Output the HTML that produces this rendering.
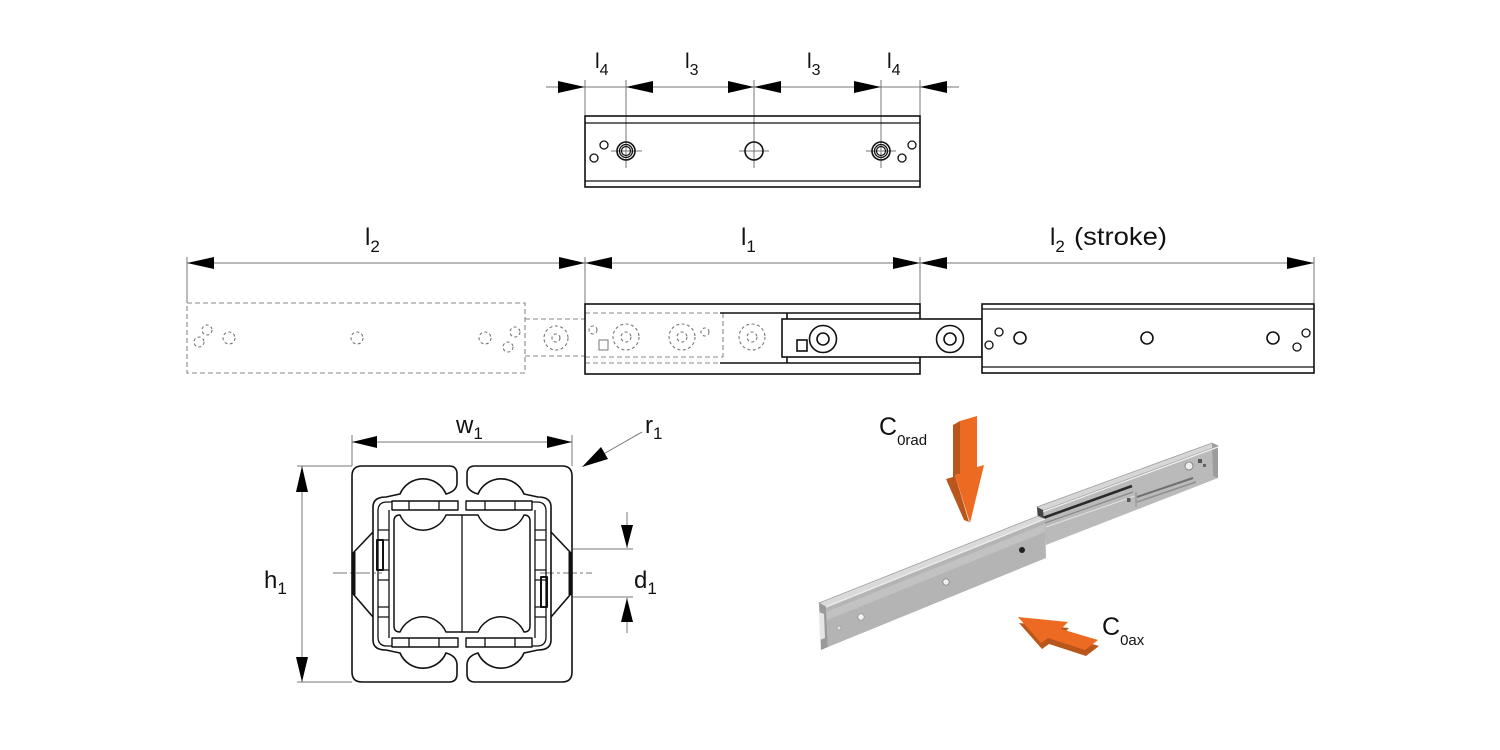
<!DOCTYPE html>
<html>
<head>
<meta charset="utf-8">
<style>
html,body{margin:0;padding:0;background:#fff;}
svg{display:block;}
text{font-family:"Liberation Sans",Arial,sans-serif;fill:#111;}
</style>
</head>
<body>
<svg width="1500" height="750" viewBox="0 0 1500 750" xmlns="http://www.w3.org/2000/svg">
<rect width="1500" height="750" fill="#fff"/>

<!-- ================= TOP RAIL ================= -->
<g stroke="#777" stroke-width="1" fill="none">
  <line x1="546" y1="87" x2="959" y2="87"/>
  <line x1="585" y1="80" x2="585" y2="116"/>
  <line x1="920" y1="80" x2="920" y2="116"/>
  <line x1="626" y1="80" x2="626" y2="168"/>
  <line x1="754" y1="80" x2="754" y2="168"/>
  <line x1="881" y1="80" x2="881" y2="168"/>
  <line x1="611" y1="151" x2="642" y2="151"/>
  <line x1="739" y1="151" x2="769" y2="151"/>
  <line x1="866" y1="151" x2="896" y2="151"/>
</g>
<g fill="#000">
  <polygon points="558,81 585,87 558,93"/>
  <polygon points="653,81 626,87 653,93"/>
  <polygon points="728,81 754,87 728,93"/>
  <polygon points="781,81 754,87 781,93"/>
  <polygon points="854,81 881,87 854,93"/>
  <polygon points="947,81 920,87 947,93"/>
</g>
<g stroke="#111" stroke-width="1.6" fill="none">
  <rect x="585" y="116" width="335" height="71"/>
  <line x1="585" y1="123" x2="920" y2="123" stroke-width="1.3"/>
  <line x1="585" y1="181" x2="920" y2="181" stroke-width="1.3"/>
  <circle cx="626" cy="151" r="9"/>
  <circle cx="626" cy="151" r="6.5" stroke-width="1.3"/>
  <circle cx="626" cy="151" r="4.5" stroke-width="1.2"/>
  <circle cx="754" cy="151" r="9"/>
  <circle cx="881" cy="151" r="9"/>
  <circle cx="881" cy="151" r="6.5" stroke-width="1.3"/>
  <circle cx="881" cy="151" r="4.5" stroke-width="1.2"/>
  <circle cx="604" cy="145" r="4" stroke-width="1.3"/>
  <circle cx="594" cy="158" r="4" stroke-width="1.3"/>
  <circle cx="912" cy="145" r="4" stroke-width="1.3"/>
  <circle cx="902" cy="158" r="4" stroke-width="1.3"/>
</g>
<text x="595" y="68" font-size="21">l<tspan font-size="16" dy="7">4</tspan></text>
<text x="685" y="68" font-size="21">l<tspan font-size="16" dy="7">3</tspan></text>
<text x="807" y="68" font-size="21">l<tspan font-size="16" dy="7">3</tspan></text>
<text x="887" y="68" font-size="21">l<tspan font-size="16" dy="7">4</tspan></text>

<!-- ================= MIDDLE VIEW ================= -->
<g stroke="#777" stroke-width="1" fill="none">
  <line x1="187" y1="263" x2="1314" y2="263"/>
  <line x1="187" y1="257" x2="187" y2="303"/>
  <line x1="585" y1="257" x2="585" y2="304"/>
  <line x1="920" y1="257" x2="920" y2="304"/>
  <line x1="1314" y1="257" x2="1314" y2="304"/>
</g>
<g fill="#000">
  <polygon points="214,257 187,263 214,269"/>
  <polygon points="559,257 585,263 559,269"/>
  <polygon points="612,257 585,263 612,269"/>
  <polygon points="893,257 920,263 893,269"/>
  <polygon points="947,257 920,263 947,269"/>
  <polygon points="1287,257 1314,263 1287,269"/>
</g>
<text x="365" y="245" font-size="24">l<tspan font-size="17" dy="7">2</tspan></text>
<text x="741" y="245" font-size="24">l<tspan font-size="17" dy="7">1</tspan></text>
<text x="1050" y="245" font-size="24">l<tspan font-size="17" dy="7">2</tspan></text>
<text x="1074" y="245" font-size="25" textLength="93" lengthAdjust="spacingAndGlyphs">(stroke)</text>

<!-- dashed phantom -->
<g stroke="#888" stroke-width="1.1" fill="none" stroke-dasharray="5,3">
  <rect x="187" y="303" width="338" height="70"/>
  <line x1="525" y1="319" x2="585" y2="319"/>
  <line x1="525" y1="356" x2="585" y2="356"/>
  <line x1="585" y1="313" x2="723" y2="313"/>
  <line x1="585" y1="357" x2="723" y2="357"/>
  <line x1="723" y1="313" x2="723" y2="357"/>
  <line x1="585" y1="363" x2="720" y2="363"/>
</g>
<g stroke="#777" stroke-width="1.1" fill="none" stroke-dasharray="3,2.5">
  <circle cx="207" cy="330" r="5"/>
  <circle cx="199" cy="342" r="5"/>
  <circle cx="229" cy="338" r="6"/>
  <circle cx="357" cy="338" r="6"/>
  <circle cx="485" cy="338" r="6"/>
  <circle cx="515" cy="332" r="5"/>
  <circle cx="508" cy="347" r="5"/>
  <circle cx="556" cy="338" r="12"/>
  <circle cx="556" cy="338" r="4"/>
  <circle cx="593" cy="330" r="4"/>
  <circle cx="626" cy="337" r="13"/>
  <circle cx="626" cy="337" r="5"/>
  <circle cx="682" cy="337" r="13"/>
  <circle cx="682" cy="337" r="5"/>
  <circle cx="705" cy="332" r="4"/>
  <circle cx="752" cy="337" r="13"/>
  <circle cx="752" cy="337" r="5"/>
</g>
<rect x="599" y="340" width="9" height="10" fill="none" stroke="#777" stroke-width="1"/>

<!-- solid I1 rail -->
<g stroke="#111" stroke-width="1.6" fill="none">
  <rect x="585" y="304" width="335" height="70"/>
  <line x1="720" y1="313" x2="920" y2="313"/>
  <line x1="720" y1="363" x2="920" y2="363"/>
  <line x1="787" y1="313" x2="787" y2="363"/>
  <rect x="782" y="319" width="200" height="38" fill="#fff"/>
  <rect x="797" y="340" width="10" height="11"/>
  <circle cx="823" cy="339" r="13.5"/>
  <circle cx="823" cy="339" r="6"/>
  <circle cx="950" cy="339" r="13.5"/>
  <circle cx="950" cy="339" r="6"/>
  <!-- right rail -->
  <rect x="982" y="304" width="332" height="69" fill="#fff"/>
  <line x1="982" y1="309" x2="1314" y2="309" stroke-width="1.3"/>
  <line x1="982" y1="367" x2="1314" y2="367" stroke-width="1.3"/>
  <circle cx="999" cy="332" r="4" stroke-width="1.3"/>
  <circle cx="989" cy="345" r="4" stroke-width="1.3"/>
  <circle cx="1020" cy="338" r="6"/>
  <circle cx="1147" cy="338" r="6"/>
  <circle cx="1273" cy="338" r="6"/>
  <circle cx="1306" cy="333" r="4" stroke-width="1.3"/>
  <circle cx="1297" cy="347" r="4" stroke-width="1.3"/>
</g>

<!-- ================= CROSS SECTION ================= -->
<g stroke="#777" stroke-width="1" fill="none">
  <line x1="352" y1="442" x2="572" y2="442"/>
  <line x1="352" y1="435" x2="352" y2="466"/>
  <line x1="572" y1="435" x2="572" y2="466"/>
  <line x1="302" y1="466" x2="302" y2="682"/>
  <line x1="297" y1="466" x2="352" y2="466"/>
  <line x1="297" y1="682" x2="352" y2="682"/>
  <line x1="627" y1="512" x2="627" y2="548"/>
  <line x1="627" y1="598" x2="627" y2="633"/>
  <line x1="573" y1="549" x2="633" y2="549"/>
  <line x1="573" y1="597" x2="633" y2="597"/>
  <line x1="642" y1="432" x2="600" y2="456"/>
  <line x1="333" y1="573" x2="382" y2="573" stroke-dasharray="14,3,3,3"/>
  <line x1="540" y1="573" x2="592" y2="573" stroke-dasharray="14,3,3,3"/>
</g>
<g fill="#000">
  <polygon points="377,436 352,442 377,448"/>
  <polygon points="547,436 572,442 547,448"/>
  <polygon points="296,492 302,466 308,492"/>
  <polygon points="296,657 302,682 308,657"/>
  <polygon points="621,525 627,548 633,525"/>
  <polygon points="621,622 627,598 633,622"/>
  <polygon points="582,467 608,459 601,447"/>
</g>
<text x="456" y="433" font-size="24">w<tspan font-size="17" dy="6">1</tspan></text>
<text x="645" y="433" font-size="24">r<tspan font-size="17" dy="6">1</tspan></text>
<text x="264" y="588" font-size="24">h<tspan font-size="17" dy="6">1</tspan></text>
<text x="634" y="588" font-size="24">d<tspan font-size="17" dy="6">1</tspan></text>

<g stroke="#111" stroke-width="1.6" fill="none" stroke-linejoin="round">
  <path d="M400 494 A25 25 0 0 1 446 494 Q457 491 457 483 V474 Q457 466 449 466 H362 Q352 466 352 476 V672 Q352 682 362 682 H449 Q457 682 457 674 V665 Q457 656 446 653 A25 25 0 0 1 400 653 L386 650 Q373 650 373 640 V507 Q373 497 386 497 Z"/>
  <path d="M373 532 L354 552 V595 L373 617"/>
  <line x1="354" y1="552" x2="354" y2="595" stroke-width="3"/>
  <path d="M392 502 H387 Q378 502 378 511 V637 Q378 646 387 646 H392" stroke-width="1.3"/>
  <rect x="392" y="501" width="66" height="9" fill="#fff" stroke-width="1.4"/>
  <line x1="409" y1="501" x2="409" y2="510" stroke-width="1.3"/>
  <line x1="439" y1="501" x2="439" y2="510" stroke-width="1.3"/>
  <rect x="392" y="638" width="66" height="9" fill="#fff" stroke-width="1.4"/>
  <line x1="409" y1="638" x2="409" y2="647" stroke-width="1.3"/>
  <line x1="439" y1="638" x2="439" y2="647" stroke-width="1.3"/>
  <path d="M389 510 V638 M378 530 H389 M378 540 H389 M378 570 H389 M378 580 H389 M378 607 H389 M378 617 H389" stroke-width="1.3"/>
  <rect x="377" y="540" width="6" height="30" stroke-width="2"/>
  <path d="M462 515 H446 A25 25 0 0 1 400 515 Q394 515 394 521 V626 Q394 632 400 632 A25 25 0 0 1 446 632 H462" stroke-width="1.5"/>
  <line x1="462" y1="515" x2="462" y2="632" stroke-width="1.3"/>
</g>
<g transform="matrix(-1 0 0 1 924 0)" stroke="#111" stroke-width="1.6" fill="none" stroke-linejoin="round">
  <path d="M400 494 A25 25 0 0 1 446 494 Q457 491 457 483 V474 Q457 466 449 466 H362 Q352 466 352 476 V672 Q352 682 362 682 H449 Q457 682 457 674 V665 Q457 656 446 653 A25 25 0 0 1 400 653 L386 650 Q373 650 373 640 V507 Q373 497 386 497 Z"/>
  <path d="M373 532 L354 552 V595 L373 617"/>
  <line x1="354" y1="552" x2="354" y2="595" stroke-width="3"/>
  <path d="M392 502 H387 Q378 502 378 511 V637 Q378 646 387 646 H392" stroke-width="1.3"/>
  <rect x="392" y="501" width="66" height="9" fill="#fff" stroke-width="1.4"/>
  <line x1="409" y1="501" x2="409" y2="510" stroke-width="1.3"/>
  <line x1="439" y1="501" x2="439" y2="510" stroke-width="1.3"/>
  <rect x="392" y="638" width="66" height="9" fill="#fff" stroke-width="1.4"/>
  <line x1="409" y1="638" x2="409" y2="647" stroke-width="1.3"/>
  <line x1="439" y1="638" x2="439" y2="647" stroke-width="1.3"/>
  <path d="M389 510 V638 M378 530 H389 M378 540 H389 M378 570 H389 M378 580 H389 M378 607 H389 M378 617 H389" stroke-width="1.3"/>
  <rect x="377" y="577" width="6" height="30" stroke-width="2"/>
  <path d="M462 515 H446 A25 25 0 0 1 400 515 Q394 515 394 521 V626 Q394 632 400 632 A25 25 0 0 1 446 632 H462" stroke-width="1.5"/>
</g>

<!-- ================= 3D RAIL ================= -->
<polygon points="1037,507 1212,443 1218,446 1042,511" fill="#d6d6d6" stroke="#9a9a9a" stroke-width="0.8"/>
<polygon points="1042,511 1218,446 1218,478 1046,545" fill="#bababa"/>
<polygon points="1212,443 1218,446 1218,478 1213,476" fill="#9c9c9c"/>
<line x1="1042" y1="512" x2="1218" y2="447" stroke="#eeeeee" stroke-width="1.2"/>
<line x1="1043" y1="518" x2="1132" y2="486" stroke="#2a2a2a" stroke-width="2.6"/>
<line x1="1045" y1="523" x2="1133" y2="492" stroke="#8a8a8a" stroke-width="1.2"/>
<line x1="1046" y1="527" x2="1135" y2="496" stroke="#e2e2e2" stroke-width="1"/>
<line x1="1137" y1="497" x2="1193" y2="478" stroke="#6f6f6f" stroke-width="2"/>
<line x1="1137" y1="502" x2="1196" y2="482" stroke="#8f8f8f" stroke-width="1.5"/>
<line x1="1136" y1="492" x2="1136" y2="507" stroke="#8a8a8a" stroke-width="1"/>
<polygon points="1037,507 1043,510 1044,521 1038,522" fill="#444"/>
<circle cx="1189" cy="466" r="4" fill="#eeeeee" stroke="#7a7a7a" stroke-width="0.8"/>
<rect x="1198" y="459" width="4" height="4" fill="#555"/>
<rect x="1203" y="464" width="3" height="3" fill="#666"/>
<rect x="1127" y="498" width="3.5" height="4" fill="#555"/>

<polygon points="819,603 1038,516 1045,519 826,607" fill="#dadada" stroke="#a0a0a0" stroke-width="0.8"/>
<polygon points="826,607 1045,519 1046,558 828,647" fill="#b4b4b4"/>
<polygon points="826,612 1045,524 1045,532 827,620" fill="#c2c2c2"/>
<line x1="826" y1="607" x2="1045" y2="519" stroke="#ededed" stroke-width="1.3"/>
<polygon points="819,603 826,607 828,647 821,650" fill="#9a9a9a"/>
<polygon points="819,612 824,614 825,638 820,640" fill="#e6e6e6"/>
<circle cx="861" cy="617" r="3.2" fill="#f4f4f4" stroke="#8a8a8a" stroke-width="0.7"/>
<circle cx="946" cy="582" r="3.2" fill="#eeeeee" stroke="#7a7a7a" stroke-width="0.7"/>
<circle cx="1022" cy="550" r="3" fill="#222"/>
<circle cx="839" cy="628" r="2" fill="#e0e0e0" stroke="#888" stroke-width="0.6"/>

<!-- orange arrows -->
<polygon points="953,425 960,421 960,474 955,475 969,522 964,520 946,479 953,477" fill="#b9561c"/>
<polygon points="960,421 977,416 977,467 984,465 970,523 955,475 960,474" fill="#ec6a22"/>
<polygon points="1019,623 1069,628 1062,635 1099,646 1086,656 1049,644 1042,649" fill="#b9561c"/>
<polygon points="1018,617 1068,622 1061,629 1098,640 1085,650 1048,638 1041,643" fill="#ec6a22"/>

<text x="879" y="435" font-size="25">C<tspan font-size="15" dy="10">0rad</tspan></text>
<text x="1102" y="635" font-size="25">C<tspan font-size="15" dy="10">0ax</tspan></text>
</svg>
</body>
</html>
